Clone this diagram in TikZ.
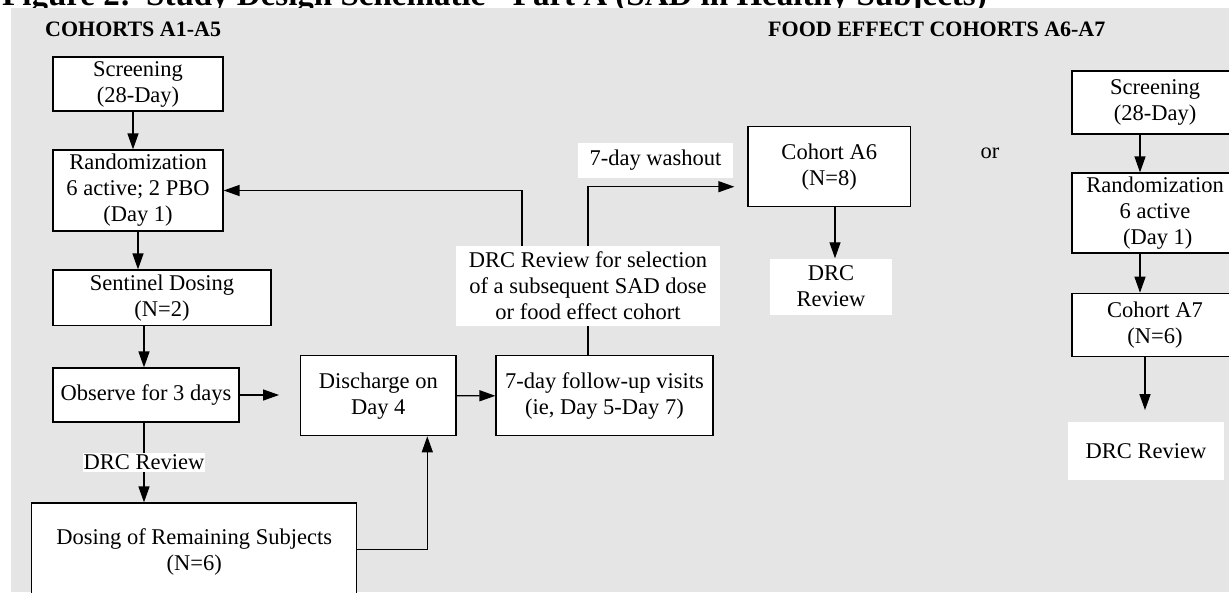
\documentclass[tikz,border=0pt]{standalone}
\usepackage{fontspec}
\setmainfont{Liberation Serif}
\usetikzlibrary{arrows.meta}
\begin{document}
\begin{tikzpicture}[x=1pt,y=-1pt,
  every node/.style={font=\fontsize{22.5}{26}\selectfont, align=center, inner sep=0pt},
  box/.style={draw=black, fill=white, line width=1.2pt},
  lbl/.style={fill=white},
  conn/.style={line width=1.3pt},
  arr/.style={conn, -{Triangle[length=16pt,width=11pt]}},
  head/.style={font=\fontsize{22}{26}\selectfont\bfseries, anchor=base west},
  titlefont/.style={font=\fontsize{33}{40}\selectfont\bfseries}]
\useasboundingbox (0,0) rectangle (1229,592);
\clip (0,0) rectangle (1229,592);

% figure title, mostly hidden behind the grey panel
\node[titlefont, anchor=base west] (figno) at (2,5.5) {Figure 2:};
\node[titlefont, anchor=base west] (figtitle) at (146,5.5) {Study Design Schematic - Part A (SAD in Healthy Subjects)};

% grey panel
\fill[gray!20] (11,8) rectangle (1229,592);

% column headings
\node[head] (hA) at (45,36) {COHORTS A1-A5};
\node[head] (hB) at (768,36) {FOOD EFFECT COHORTS A6-A7};

% SAD cohorts A1-A5
\node[box, minimum width=170pt, minimum height=54pt] (scrL) at (138,84) {Screening\\(28-Day)};
\node[box, minimum width=170pt, minimum height=81pt] (randL) at (138,190.5) {Randomization\\6 active; 2 PBO\\(Day 1)};
\node[box, minimum width=218pt, minimum height=55.5pt] (sent) at (162,297.75) {Sentinel Dosing\\(N=2)};
\node[box, minimum width=186pt, minimum height=54pt] (obs) at (146,395) {Observe for 3 days};
\node[box, minimum width=325pt, minimum height=97pt] (dose) at (194.2,551.5) {Dosing of Remaining Subjects\\(N=6)};
\node[box, minimum width=155.3pt, minimum height=80pt] (disc) at (378.3,395.7) {Discharge on\\Day 4};
\node[box, minimum width=217pt, minimum height=80pt] (fup) at (604.5,395.8) {7-day follow-up visits\\(ie, Day 5-Day 7)};
\node[lbl, minimum width=264pt, minimum height=80pt] (drc) at (588,286) {DRC Review for selection\\of a subsequent SAD dose\\or food effect cohort};

% food effect cohort A6
\node[box, minimum width=162.7pt, minimum height=80pt] (a6) at (829.3,166.7) {Cohort A6\\(N=8)};
\node[lbl, minimum width=122pt, minimum height=56pt] (drc6) at (831,286.5) {DRC\\Review};
\node[lbl, minimum width=155pt, minimum height=35pt] (wash) at (655.5,160.5) {7-day washout};
\node (or) at (990,153) {or};

% food effect cohort A7
\node[box, minimum width=166pt, minimum height=63pt] (scrR) at (1155,102.5) {Screening\\(28-Day)};
\node[box, minimum width=166pt, minimum height=80pt] (randR) at (1155,213) {Randomization\\6 active\\\ (Day 1)};
\node[box, minimum width=166pt, minimum height=63.4pt] (a7) at (1155,325) {Cohort A7\\(N=6)};
\node[lbl, minimum width=156pt, minimum height=58pt] (drc7) at (1146,451) {DRC Review};

% connectors, cohorts A1-A5
\draw[arr] ([xshift=-5pt]scrL.south) -- ([xshift=-5pt]scrL.south |- randL.north);
\draw[arr] (randL.south) -- (randL.south |- sent.north);
\draw[arr] ([xshift=-18pt]sent.south) -- ([xshift=-18pt]sent.south |- obs.north);
\draw[arr] ([xshift=-2pt]obs.south) -- ([xshift=-2pt]obs.south |- dose.north)
  node[lbl, pos=0.5, inner xsep=1pt, inner ysep=2pt] (drcA) {DRC Review};
\draw[arr, shorten >=21pt] (obs.east) -- (obs.east -| disc.west);
\draw[arr] (disc.east) -- (fup.west);
\draw[arr] ([yshift=2pt]dose.east) -| ([xshift=49pt]disc.south);
\draw[conn] (drc.south) -- (drc.south |- fup.north);
\draw[arr] ([xshift=-66pt]drc.north) |- (randL.east);
\draw[arr, shorten >=13pt] (drc.north) |- ([yshift=-20pt]a6.west);

% connectors, food effect cohorts
\draw[arr] ([xshift=5.7pt]a6.south) -- ([xshift=5.7pt]a6.south |- drc6.north);
\draw[arr] ([xshift=-15pt]scrR.south) -- ([xshift=-15pt]scrR.south |- randR.north);
\draw[arr] ([xshift=-15pt]randR.south) -- ([xshift=-15pt]randR.south |- a7.north);
\draw[arr, shorten >=11.7pt] ([xshift=-10pt]a7.south) -- ([xshift=-10pt]a7.south |- drc7.north);
\end{tikzpicture}
\end{document}
